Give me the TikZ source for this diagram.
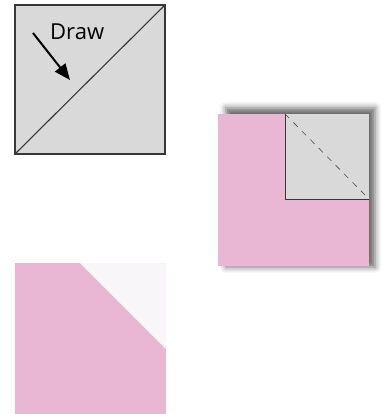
\documentclass[tikz,border=0pt]{standalone}
\usepackage{fontspec}
\setmainfont{Open Sans}
\usetikzlibrary{arrows.meta,shadows.blur}
\definecolor{quiltpink}{RGB}{233,182,212}
\definecolor{quiltgray}{RGB}{217,217,217}
\definecolor{quiltline}{RGB}{55,55,55}
\definecolor{quiltwhite}{RGB}{249,246,249}
\begin{document}
\begin{tikzpicture}[x=1pt,y=-1pt]
    % pixel coordinates, y pointing down; the box keeps the margins
    \useasboundingbox (0,0) rectangle (382,414);
    % square to be marked: corner to corner
    \fill[quiltgray] (15,5) rectangle (165,154);
    \draw[quiltline, line width=1.5pt] (15,5) rectangle (165,154);
    \draw[quiltline, line width=1.1pt] (15,154) -- (165,5);
    \node[anchor=base west, inner sep=0pt, font=\fontsize{22}{26}\selectfont] (drawlbl) at (50,40) {Draw};
    \coordinate (arrtail) at (33,33);
    \coordinate (arrtip) at (70,80);
    \draw[-{Triangle[length=16pt,width=13pt]}, line width=2pt] (arrtail) -- (arrtip);
    % square laid on the corner of the pink block, right sides together
    % the shadow alone, shifted to the right, then the block over it
    \path[blur shadow={shadow xshift=0pt, shadow yshift=0pt, shadow blur radius=6pt, shadow opacity=60}]
      (226,108) rectangle (375,267);
    \fill[quiltpink] (218,114) rectangle (369,266);
    \fill[quiltgray] (285,114) rectangle (369,199);
    \draw[quiltline, line width=0.8pt] (285,114) -- (285,199) -- (369,199);
    \draw[gray!60!black, line width=0.6pt, dash pattern=on 6pt off 6pt] (285,114) -- (369,199);
    % after trimming: the corner turned into a triangle
    \fill[quiltpink] (15,263) rectangle (166,414);
    \fill[quiltwhite] (80,263) -- (166,263) -- (166,349) -- cycle;
  \end{tikzpicture}
\end{document}
